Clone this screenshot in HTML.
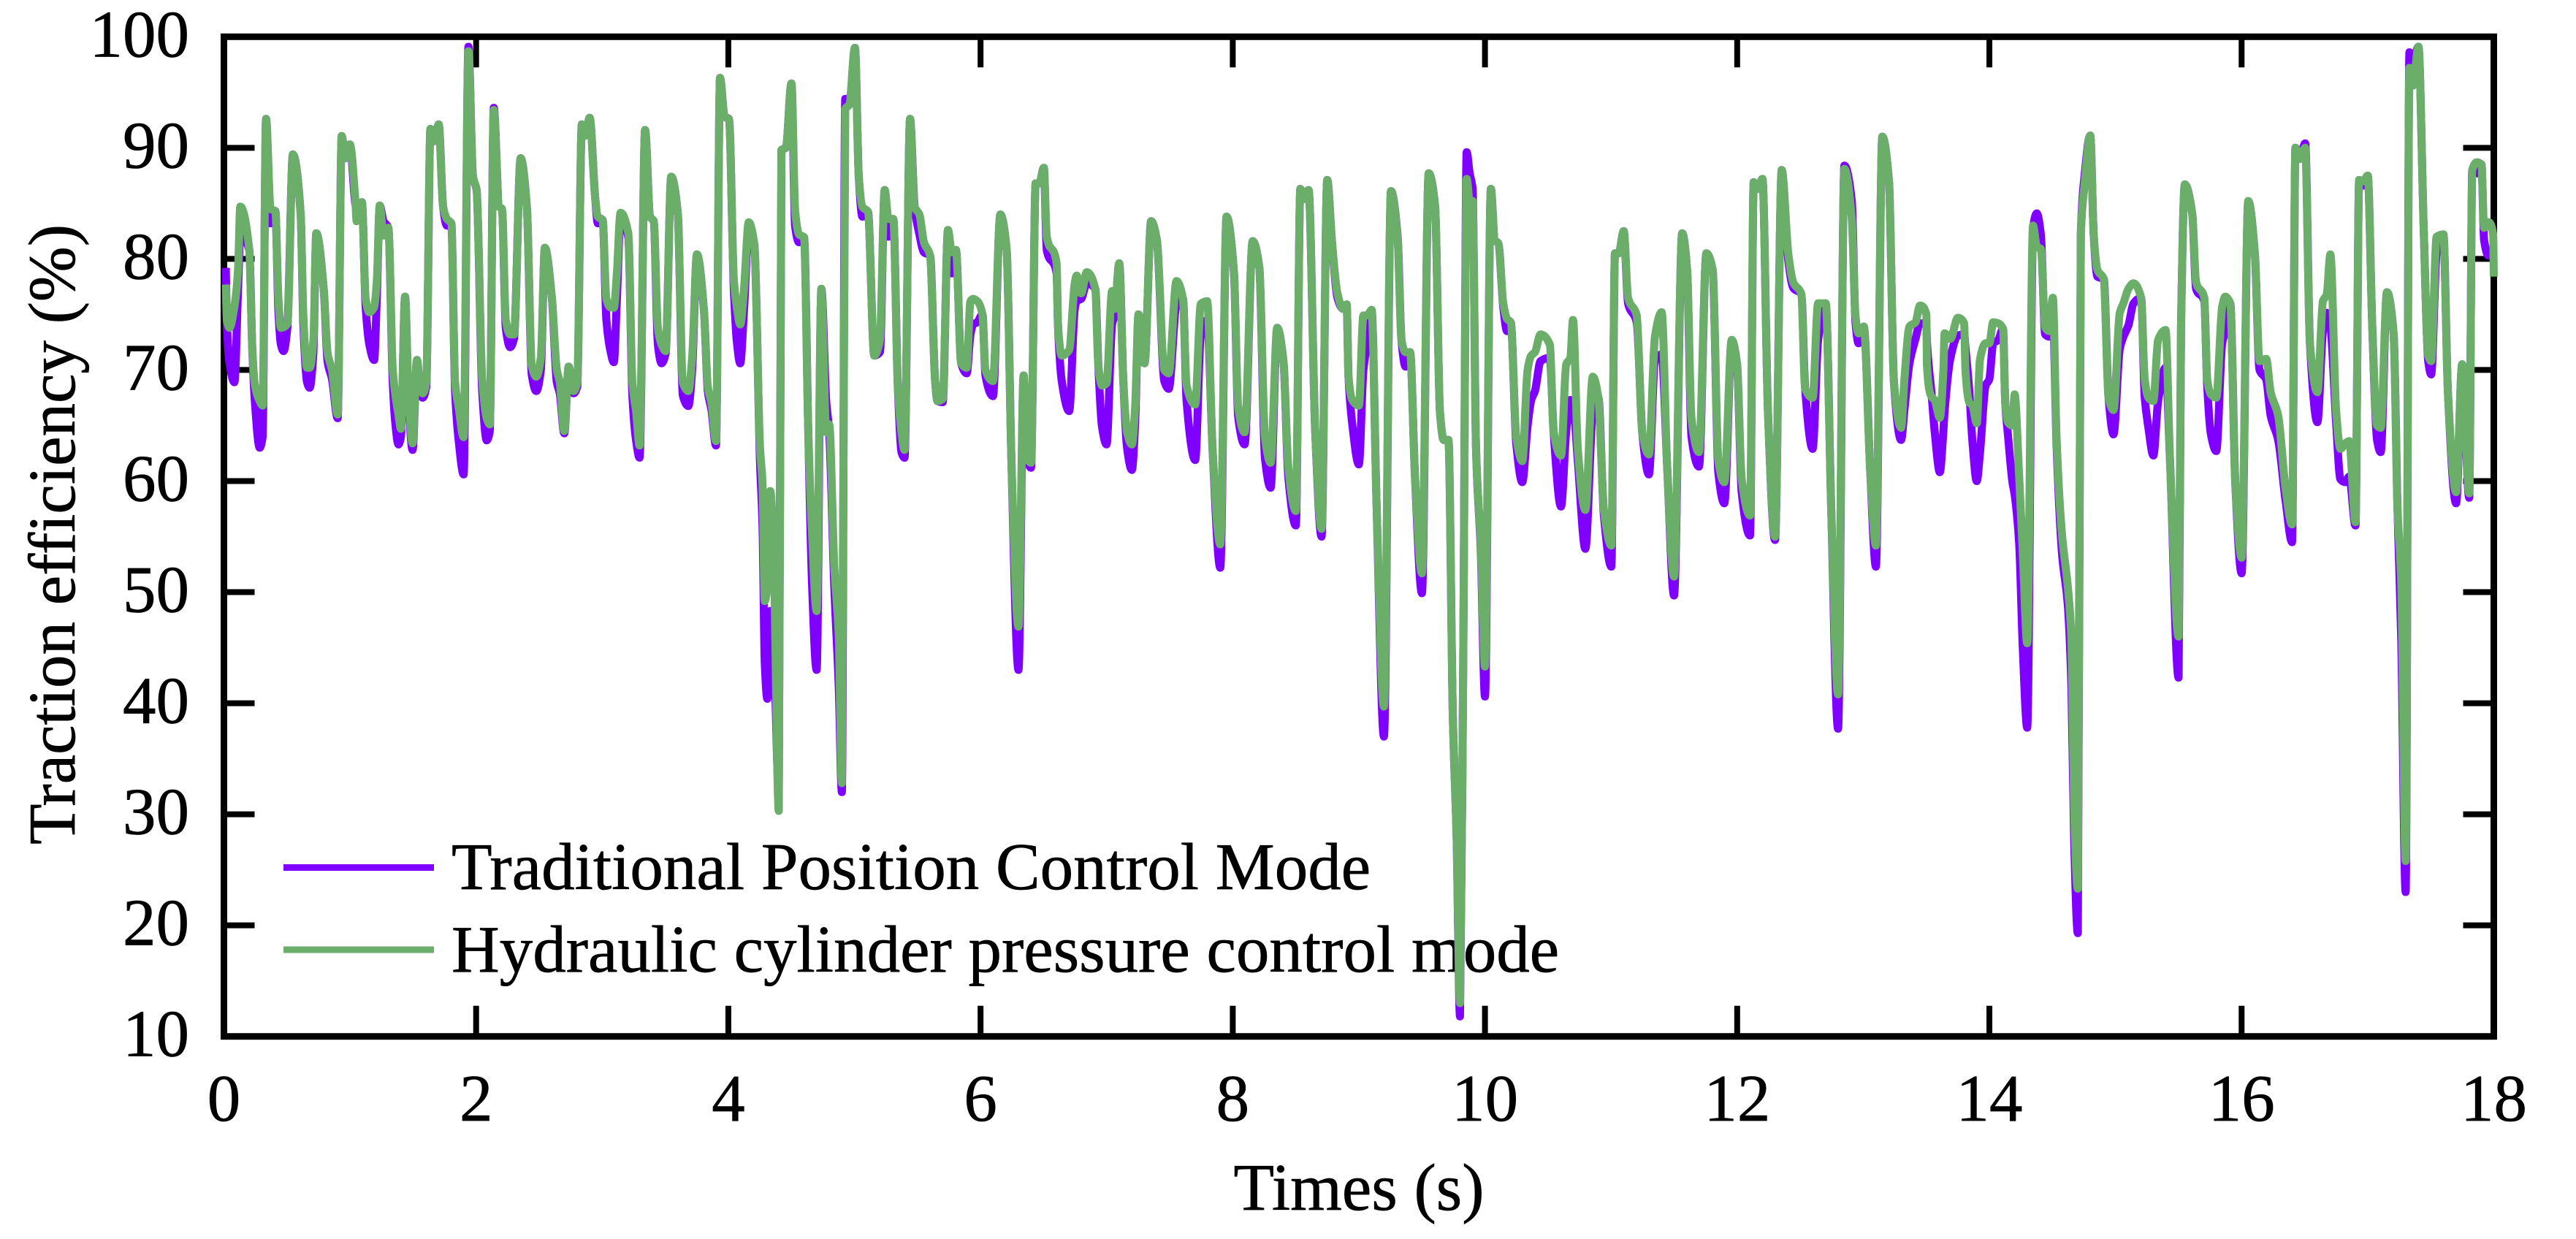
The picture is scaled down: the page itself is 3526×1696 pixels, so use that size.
<!DOCTYPE html>
<html lang="en">
<head>
<meta charset="utf-8">
<title>Traction efficiency over time</title>
<style>
html,body{margin:0;padding:0;background:#fff;}
svg{display:block;}
text{font-family:"Liberation Serif","Times New Roman",serif;fill:#000;stroke:#000;stroke-width:0.7px;font-size:91px;}
</style>
</head>
<body>
<svg id="chart" xmlns="http://www.w3.org/2000/svg" width="3526" height="1696" viewBox="0 0 3526 1696">
<rect x="0" y="0" width="3526" height="1696" fill="#fff"/>
<text x="1860" y="1656" text-anchor="middle">Times (s)</text>
<text transform="translate(102,1156) rotate(-90)" x="0" y="0">Traction efficiency (%)</text>
<g>
<line x1="388" x2="594" y1="1187.5" y2="1187.5" stroke="#8000ff" stroke-width="9"/>
<text x="618" y="1217">Traditional Position Control Mode</text>
<line x1="388" x2="594" y1="1300" y2="1300" stroke="#6aae6a" stroke-width="9"/>
<text x="618" y="1330">Hydraulic cylinder pressure control mode</text>
</g>
<g id="axes"></g>
<g id="series"></g>
</svg>
<script>
const xTickValues = [0,2,4,6,8,10,12,14,16,18];
const yTickValues = [10,20,30,40,50,60,70,80,90,100];
const times = [
.015,.024,.044,.083,.112,.13,.201,.225,.245,.284,
.307,.334,.37,.408,.432,.452,.473,.503,.547,.609,
.63,.659,.68,.709,.733,.792,.822,.857,.902,.934,
.964,.999,1.043,1.052,1.094,1.124,1.153,1.191,1.212,1.236,
1.265,1.304,1.339,1.36,1.384,1.404,1.437,1.46,1.496,1.531,
1.555,1.576,1.605,1.638,1.667,1.703,1.738,1.768,1.803,1.833,
1.862,1.901,1.939,1.975,2.004,2.048,2.084,2.108,2.14,2.182,
2.205,2.235,2.27,2.3,2.353,2.403,2.441,2.477,2.513,2.545,
2.601,2.64,2.663,2.699,2.734,2.773,2.802,2.838,2.867,2.9,
2.944,2.965,3.003,3.033,3.062,3.092,3.116,3.145,3.207,3.239,
3.269,3.296,3.34,3.379,3.408,3.441,3.47,3.503,3.547,3.6,
3.639,3.683,3.713,3.751,3.807,3.837,3.866,3.902,3.934,3.97,
4.005,4.044,4.067,4.094,4.124,4.162,4.206,4.251,4.271,4.289,
4.309,4.333,4.36,4.4,4.421,4.457,4.5,4.53,4.56,4.6,
4.634,4.664,4.7,4.738,4.776,4.8,4.84,4.876,4.9,4.927,
4.96,5.004,5.034,5.063,5.107,5.157,5.202,5.24,5.27,5.308,
5.344,5.373,5.397,5.441,5.477,5.515,5.551,5.6,5.64,5.658,
5.7,5.742,5.772,5.805,5.846,5.89,5.92,5.941,5.974,6.015,
6.039,6.098,6.157,6.207,6.245,6.301,6.342,6.369,6.4,6.437,
6.466,6.502,6.525,6.603,6.614,6.644,6.703,6.747,6.762,6.798,
6.842,6.91,6.934,6.963,6.999,7.043,7.064,7.1,7.132,7.162,
7.2,7.226,7.253,7.3,7.353,7.398,7.457,7.492,7.554,7.605,
7.634,7.702,7.747,7.797,7.841,7.901,7.951,8.01,8.043,8.094,
8.158,8.211,8.255,8.3,8.353,8.403,8.441,8.5,8.536,8.566,
8.601,8.654,8.704,8.749,8.787,8.83,8.875,8.903,8.918,8.948,
9,9.036,9.066,9.101,9.14,9.199,9.255,9.308,9.338,9.37,
9.406,9.444,9.5,9.554,9.605,9.643,9.673,9.71,9.745,9.775,
9.802,9.828,9.855,9.879,9.902,9.929,9.967,10,10.047,10.077,
10.106,10.145,10.175,10.204,10.248,10.296,10.338,10.367,10.396,10.441,
10.514,10.544,10.603,10.644,10.677,10.698,10.736,10.796,10.855,10.899,
10.943,11.002,11.031,11.061,11.1,11.135,11.203,11.248,11.3,11.348,
11.401,11.445,11.499,11.564,11.603,11.638,11.697,11.756,11.806,11.851,
11.898,11.957,11.999,12.036,12.102,12.131,12.164,12.2,12.244,12.3,
12.353,12.406,12.444,12.509,12.539,12.598,12.642,12.702,12.746,12.8,
12.85,12.909,12.938,12.962,13.004,13.056,13.1,13.151,13.204,13.243,
13.3,13.327,13.366,13.414,13.45,13.5,13.505,13.54,13.566,13.607,
13.635,13.645,13.69,13.75,13.8,13.81,13.84,13.866,13.9,13.925,
13.97,13.999,14.03,14.07,14.108,
14.126,14.147,14.183,14.2,14.236,14.266,14.3,14.346,14.376,14.408,
14.443,14.473,14.503,14.533,14.577,14.621,14.651,14.672,14.701,14.725,
14.754,14.8,14.827,14.857,14.907,14.945,14.984,15.034,15.063,15.102,
15.143,15.203,15.232,15.261,15.3,15.338,15.397,15.432,15.5,15.52,
15.55,15.609,15.639,15.704,15.727,15.757,15.799,15.846,15.87,15.91,
15.95,16,16.053,16.106,16.142,16.195,16.23,16.29,16.349,16.4,
16.427,16.462,16.504,16.542,16.601,16.645,16.675,16.704,16.749,16.784,
16.823,16.853,16.903,16.932,16.965,17,17.036,17.074,17.103,17.153,
17.206,17.236,17.266,17.301,17.331,17.36,17.402,17.444,17.48,17.503,
17.547,17.6,17.636,17.701,17.749,17.805,17.829,17.865,17.902,17.923,
17.958,17.995,18
];
const hydraulicValues = [
77.7,74.5,73.8,75.7,79,84.7,80.8,71.9,68.7,67.2,
66.8,92.6,84.5,84.3,76.4,73.8,73.85,74.15,89.4,83.96,
74.9,70.2,70.2,72.6,82.3,77.2,71.5,70,66,91.06,
89.06,90.3,85.1,83.4,85.1,76.4,75.2,75.66,77.9,84.8,
82.1,82.8,70,67.7,66,64.7,76.6,69.2,63.4,70.9,
68.5,67.9,68.9,91.7,90.6,92.1,84.7,83.6,83.2,68.9,
66.6,63.96,98.7,87.4,86.2,69.2,65.66,65.1,93.4,84.7,
84.5,74.5,73.2,73.2,89.06,84.5,70.4,69.4,71.1,81,
76.4,70,68.9,64.5,70.3,68.1,68.9,92.1,91.1,92.7,
85.5,83.8,83.5,76.4,75.66,75.6,78.7,84.15,82.26,68.9,
66.2,63.2,91.6,83.8,83.4,73.8,72.3,71.7,87.4,83.96,
68.9,68.1,71.1,80.4,75.3,68.5,67,63.6,96.3,92.8,
92.6,78.1,75.66,74.1,77.2,83.3,81.3,63,59.8,49.2,
50.6,59.1,53,30.3,89.8,90,95.8,84.3,82.2,81.95,
64.4,55.2,48.3,77.3,64.4,65.1,52.4,46,32.8,93.5,
93.9,99,87.5,84.7,84.25,71.3,72.7,86.2,83.6,83.6,
68.6,64.4,62.8,92.6,84.7,84,81.5,80.3,69,67.2,
67.4,82.6,80.6,80.8,70.6,70.2,76.2,76.4,76.2,75,
70,69,84,80.8,61.65,46.9,69.5,62.1,61.65,86.8,
86.8,88.2,82,79.6,74.1,71.3,71.8,77.8,78.5,76.9,
78.8,77.3,70.4,68.6,68.8,77.1,75.5,79.6,69,64.4,
63.3,66.7,75,70.6,83.4,81.7,70,69.7,78,76.4,
68.6,66.9,75.95,76.2,62.6,54.3,83.8,78.7,66.7,64.4,
81.6,79.2,64,61.65,73.8,70.6,61.2,57.3,86.3,85.4,
86.2,64.4,55.7,87.1,81.5,76.9,75.5,75.9,69.4,67.3,
66.8,74.9,74.9,75.4,58,39.7,86.1,81.7,72.7,71.6,
71.6,60.7,51.7,87.7,84.7,66.2,63.7,63.7,38.9,28,
13,44.4,87.2,85.2,85.2,62.9,54.2,43.3,86.3,81.7,
81.4,76,74.6,74.3,64,61.8,70,71.3,71.6,73.2,
72.3,64.5,62.3,70.5,71.1,74.5,62.9,57.4,69.4,67.5,
57.4,54.2,80.5,80.5,82.5,76.5,74.9,64.3,62.4,73,
75.2,61.3,51.4,82.3,79,65.6,62.6,80.5,79,61.8,
59.9,72.7,70.5,60.2,56.9,86.9,86.3,87.2,66.2,55,
88,80.4,77.9,76.8,68.3,67.5,76,76,57.4,40.8,
88.1,83.6,74.9,73.3,73.9,60.7,54.2,91,86.9,68.9,
64.8,69.3,73.9,74.3,75.8,75,70.4,67.6,67.3,65.7,
70,73.3,72.8,74.7,74.2,70,67.1,66.8,65.2,70.9,
72.4,72.4,74.3,74.2,73.7,
67,65.3,65,67.8,60.4,53.3,45.4,83,81.1,80.9,
73.8,73.5,76.5,63.7,55,50.6,45.7,30.4,23.3,82.2,
86.6,91.1,82.2,79,78.2,67.5,66.4,75.15,76,77.3,
77.8,76.5,69.15,67.5,67.2,72.7,73.6,62,46,74,
86.7,84,77.9,76.5,69.15,67.8,67.5,75.7,76.6,76,
59.9,53.1,85.2,80.3,70.8,71,68,65.9,59.3,56.1,
90,89,90,72.4,68,76.2,76.8,80.4,66.4,62.9,
63.4,63.6,56.3,87.1,87,87.5,74,65,64.8,77,
73.2,57.7,50.9,25.8,97.2,95.6,99.1,82.8,71.3,70.8,
82,82.2,68,59,70.5,58.9,88,88.7,88.5,82.8,
83.3,82.2,78.4
];
const traditionalValues = [
79.2,74.1,70.7,68.9,77.2,82.1,80.8,71.9,67.2,63,
64,92.6,83.2,84.3,75.3,72.3,71.7,73.8,89.4,83.96,
74.1,68.9,68.4,71.5,82.3,77.2,70.75,69.2,65.66,91.06,
89.06,90.3,84.9,84.5,85.1,75.66,72.3,70.9,76.4,84.8,
83.4,82.8,68.9,65.1,63.3,64,76.6,68.5,62.8,70.9,
68.1,67.5,68.5,91.7,90.6,92.1,84.7,83,83.2,68.1,
63.6,60.6,99.1,87.4,86.2,68.1,63.66,64.5,93.6,84.7,
84.5,73.8,72.05,72.8,89.06,84.5,69.6,68.1,70,81,
76.4,68.9,67.9,64.3,70.3,67.9,68.5,92.1,91.1,92.7,
85.5,83.2,83.5,74.5,71.9,70.7,76.4,83.6,81.9,67.7,
63.6,62.1,91.6,83.8,83.4,72.3,70.6,71.5,87.4,83.96,
67.7,66.75,70,80.4,75.3,68.1,66.4,63.2,96.3,92.8,
92.6,77.2,72.6,70.6,75.3,82.8,81.3,61.7,56,43.6,
40.4,48.3,45,32.1,89.8,90,95.8,82.9,81.5,81.95,
64.4,50.6,43,77.3,67.2,64.4,50.6,41.3,32,94.4,
93.9,99,87.5,83.8,84.25,71.3,71.6,86.2,82,83.6,
68.6,62.6,62.1,92.6,84.7,82.2,80.6,80.3,69,67.2,
67.1,82.6,78.7,80.8,70.6,69.7,73.2,74.1,74.3,75,
69.5,67.65,84,80.8,61.65,43,69.5,62.1,61.2,86.8,
86.8,88.2,80.8,78.7,74.1,69,66.3,75.5,76.2,76.4,
77.8,77.3,70.4,64.9,63.3,74.1,75,79.6,69,63,
61,65.3,75,70.6,83.4,81.7,69,68.3,75.9,76.4,
67.2,61.9,73.2,74.5,62.6,52.2,83.8,78.7,65.8,63.3,
81.6,79.2,62.1,59.4,73.8,70.6,60.3,56,86.3,85.4,
86.2,64.4,55,87.1,81.5,76.5,75.5,75.9,69.4,65.1,
61.5,70,72.4,75.4,58,37,86.1,81.9,72.7,70.3,
71.6,60.7,49.9,87.7,84.7,66.2,63.7,63.7,38.9,28,
11.8,44.4,89.6,87.7,86.3,62.9,53.7,40.6,86.3,81.7,
81.4,75.7,73.5,74.3,63.4,59.9,65,67.3,68.1,70.8,
71.1,64.5,57.7,64.5,67.3,67,61.8,53.9,66.2,67.5,
56.9,52.3,80.5,80.5,82.5,76,74.3,64.3,60.6,70.8,
71.4,61.3,49.7,82.3,79,64,61.3,80.5,79,60.7,
58,72.7,70.5,59,55.1,86.9,86.3,87.2,66.2,54.7,
88,79.8,77.4,76.8,68.3,62.9,72.7,76,57.4,37.7,
88.4,85.2,74.4,72.4,73.9,60.7,52.3,91,86.9,68.9,
63.7,66.5,70.6,72.8,74.2,74.1,72.5,68,64.5,60.8,
64.5,66.3,71,73.1,73.2,72,68.2,63.5,60,62.5,
68.6,69.15,72.4,72.7,73.7,
67,64.2,59.9,58.8,54.4,44.6,37.8,82.8,84.1,82.2,
73.2,73,75,63.15,53.3,49,41.3,27.7,19.3,82.2,
87.4,91.1,82.2,78.4,78.2,67.5,64.2,71.9,73,74,
76,76.5,67.5,64.8,62.3,67.2,70.2,62,42.3,74,
86.7,84,77.3,76.2,68.6,64.2,62.7,72.4,73.5,76,
59.9,51.7,85.2,80.3,70,69.15,65.9,63.7,58.2,54.5,
90,89,90.4,72.4,65.3,73.5,75.15,74,65.3,60.15,
59.9,60.4,56,87.1,86.6,87.5,74,63.7,62.6,77,
73.2,57.7,45.7,23,98.6,97.8,99.1,82.8,70.8,69.6,
80.6,82.2,68,58,70.5,58.5,88,87.7,88.5,81.7,
80.3,81,81.1
];

const SVGNS = 'http://www.w3.org/2000/svg';
const plot = {left:306.5, right:3413.5, top:50.3, bottom:1418.7, tMax:18, vMin:10, vMax:100};
function xScale(t){ return plot.left + (t/plot.tMax)*(plot.right-plot.left); }
function yScale(v){ return plot.bottom - ((v-plot.vMin)/(plot.vMax-plot.vMin))*(plot.bottom-plot.top); }

const axes = document.getElementById('axes');
const seriesGroup = document.getElementById('series');
const tickLen = 42;

function addLine(parent,x1,y1,x2,y2,w){
  const l = document.createElementNS(SVGNS,'line');
  l.setAttribute('x1',x1); l.setAttribute('y1',y1);
  l.setAttribute('x2',x2); l.setAttribute('y2',y2);
  l.setAttribute('stroke','#000'); l.setAttribute('stroke-width',w);
  parent.appendChild(l);
  return l;
}

xTickValues.forEach(function(val){
  const x = xScale(val);
  if(val>0 && val<plot.tMax){
    const b = addLine(axes,x,plot.bottom,x,plot.bottom-tickLen,8);
    
    
    const t = addLine(axes,x,plot.top,x,plot.top+tickLen,8);
    
    
  }
  const label = document.createElementNS(SVGNS,'text');
  label.setAttribute('x',x);
  label.setAttribute('y',1534);
  label.setAttribute('text-anchor','middle');
  label.textContent = String(val);
  
  
  axes.appendChild(label);
});

yTickValues.forEach(function(val){
  const y = yScale(val);
  if(val>plot.vMin && val<plot.vMax){
    const l = addLine(axes,plot.left,y,plot.left+tickLen,y,8);
    
    
    const r = addLine(axes,plot.right,y,plot.right-tickLen,y,8);
    
    
  }
  const label = document.createElementNS(SVGNS,'text');
  label.setAttribute('x',259);
  label.setAttribute('y',y+27);
  label.setAttribute('text-anchor','end');
  label.textContent = String(val);
  
  
  axes.appendChild(label);
});

const frame = document.createElementNS(SVGNS,'rect');
frame.setAttribute('x',plot.left);
frame.setAttribute('y',plot.top);
frame.setAttribute('width',plot.right-plot.left);
frame.setAttribute('height',plot.bottom-plot.top);
frame.setAttribute('fill','none');
frame.setAttribute('stroke','#000');
frame.setAttribute('stroke-width',9);


axes.appendChild(frame);

/* Monotone cubic curve through the data points: rounds peaks and valleys without overshoot */
function curveFor(values){
  const n = Math.min(times.length, values.length);
  const xs = [], ys = [];
  for(let i=0;i<n;i++){ xs.push(xScale(times[i])); ys.push(yScale(values[i])); }
  const slopes = [];
  for(let i=0;i<n-1;i++){ slopes.push((ys[i+1]-ys[i])/(xs[i+1]-xs[i])); }
  const tangents = [slopes[0]];
  for(let i=1;i<n-1;i++){
    const a = slopes[i-1], b = slopes[i];
    if(a*b<=0){ tangents.push(0); continue; }
    const h0 = xs[i]-xs[i-1], h1 = xs[i+1]-xs[i];
    const w1 = 2*h1+h0, w2 = h1+2*h0;
    tangents.push((w1+w2)/(w1/a+w2/b));
  }
  tangents.push(slopes[n-2]);
  let d = 'M'+xs[0].toFixed(1)+','+ys[0].toFixed(1);
  for(let i=0;i<n-1;i++){
    const h = (xs[i+1]-xs[i])/3;
    d += 'C'+(xs[i]+h).toFixed(1)+','+(ys[i]+h*tangents[i]).toFixed(1)+' '
        +(xs[i+1]-h).toFixed(1)+','+(ys[i+1]-h*tangents[i+1]).toFixed(1)+' '
        +xs[i+1].toFixed(1)+','+ys[i+1].toFixed(1);
  }
  return d;
}

const traditionalLine = document.createElementNS(SVGNS,'path');
traditionalLine.setAttribute('d',curveFor(traditionalValues));
traditionalLine.setAttribute('fill','none');
traditionalLine.setAttribute('stroke','#8000ff');
traditionalLine.setAttribute('stroke-width',11);
traditionalLine.setAttribute('stroke-linejoin','round');
traditionalLine.setAttribute('stroke-linecap','butt');


seriesGroup.appendChild(traditionalLine);

const hydraulicLine = document.createElementNS(SVGNS,'path');
hydraulicLine.setAttribute('d',curveFor(hydraulicValues));
hydraulicLine.setAttribute('fill','none');
hydraulicLine.setAttribute('stroke','#6aae6a');
hydraulicLine.setAttribute('stroke-width',11);
hydraulicLine.setAttribute('stroke-linejoin','round');
hydraulicLine.setAttribute('stroke-linecap','butt');


seriesGroup.appendChild(hydraulicLine);
</script>
</body>
</html>
